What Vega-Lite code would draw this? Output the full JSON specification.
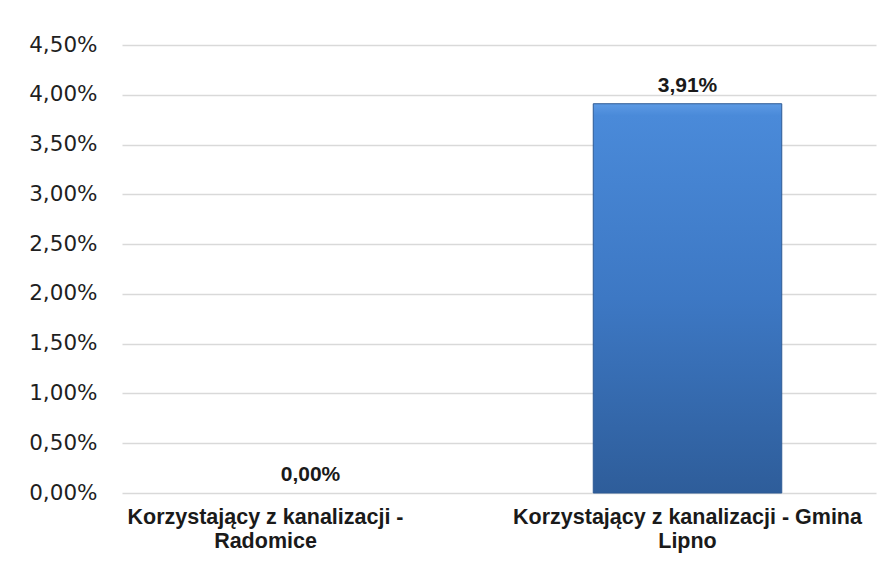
{
  "$schema": "https://vega.github.io/schema/vega-lite/v6.json",
  "autosize": "none",
  "width": 754,
  "height": 448,
  "padding": {"left": 122, "top": 45, "right": 5, "bottom": 76},
  "background": "white",
  "data": {
    "values": [
      {"kategoria": "Korzystający z kanalizacji - Radomice", "wartosc": 0.0},
      {"kategoria": "Korzystający z kanalizacji - Gmina Lipno", "wartosc": 0.0391}
    ]
  },
  "encoding": {
    "x": {
      "field": "kategoria",
      "type": "nominal",
      "sort": null,
      "scale": {"paddingInner": 0.5, "paddingOuter": 0.25},
      "axis": {
        "title": null,
        "labelAngle": 0,
        "domain": false,
        "ticks": false,
        "labelExpr": "datum.label == 'Korzystający z kanalizacji - Radomice' ? ['Korzystający z kanalizacji -', 'Radomice'] : ['Korzystający z kanalizacji - Gmina', 'Lipno']",
        "labelFont": "Liberation Sans",
        "labelFontWeight": "bold",
        "labelFontSize": 21.5,
        "labelColor": "#1a1a1a",
        "labelLineHeight": 24,
        "labelPadding": 13,
        "labelLimit": 0,
        "labelOffset": {"condition": {"test": "datum.value == 'Korzystający z kanalizacji - Radomice'", "value": -45}, "value": 0}
      }
    },
    "y": {
      "field": "wartosc",
      "type": "quantitative",
      "scale": {"domain": [0, 0.045], "nice": false},
      "axis": {
        "title": null,
        "format": ".2%",
        "values": [0, 0.005, 0.01, 0.015, 0.02, 0.025, 0.03, 0.035, 0.04, 0.045],
        "domain": false,
        "ticks": false,
        "labelFont": "DejaVu Sans",
        "labelFontSize": 21.5,
        "labelColor": "#1f1f1f",
        "labelPadding": 25,
        "gridColor": "#d9d9d9",
        "gridWidth": 1.5
      }
    }
  },
  "layer": [
    {
      "mark": {
        "type": "bar",
        "stroke": "#2d5a94",
        "strokeWidth": 1,
        "color": {
          "gradient": "linear",
          "x1": 0, "y1": 0, "x2": 0, "y2": 1,
          "stops": [
            {"offset": 0, "color": "#5d9ae4"},
            {"offset": 0.03, "color": "#4a8ad9"},
            {"offset": 0.5, "color": "#3d78c4"},
            {"offset": 1, "color": "#2e5d9a"}
          ]
        }
      },
      "encoding": {
        "strokeOpacity": {"condition": {"test": "datum.wartosc == 0", "value": 0}, "value": 1}
      }
    },
    {
      "mark": {
        "type": "text",
        "font": "Liberation Sans",
        "fontWeight": "bold",
        "fontSize": 21,
        "color": "#1a1a1a",
        "baseline": "alphabetic",
        "dy": -12
      },
      "encoding": {
        "text": {"field": "wartosc", "type": "quantitative", "format": ".2%"}
      }
    }
  ],
  "config": {
    "locale": {
      "number": {"decimal": ",", "thousands": " ", "grouping": [3], "currency": ["", " zł"]}
    },
    "view": {"stroke": null}
  }
}
